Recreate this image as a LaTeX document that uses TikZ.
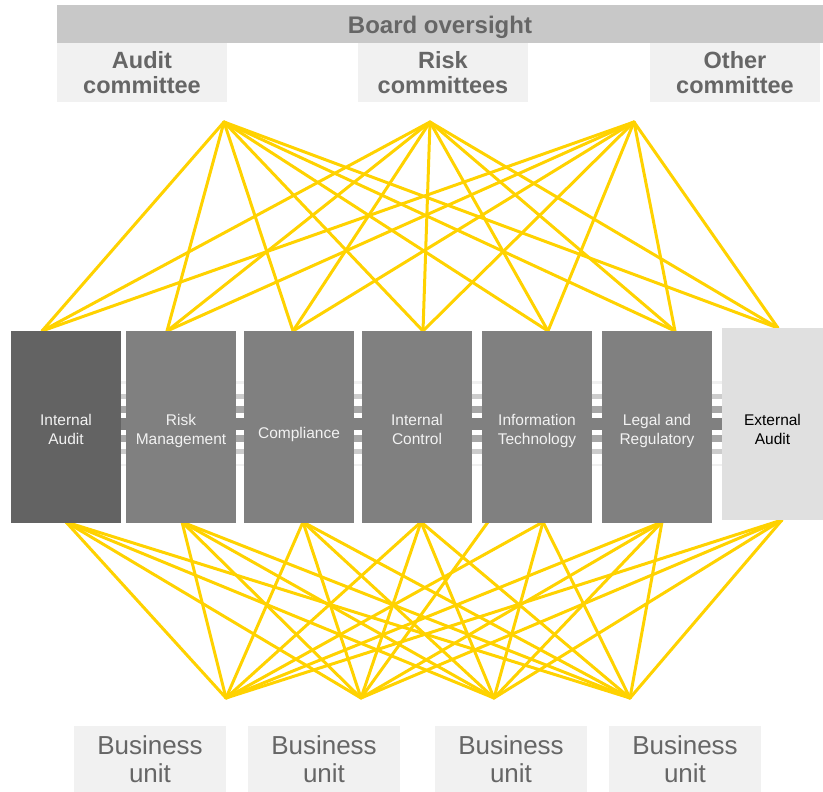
\documentclass[tikz,border=0pt]{standalone}
\usepackage{fontspec}
\setmainfont{Liberation Sans}
\definecolor{linkyellow}{RGB}{255,210,0}
\definecolor{barfill}{RGB}{200,200,200}
\definecolor{panelfill}{RGB}{241,241,241}
\definecolor{labelgray}{RGB}{102,102,102}
\definecolor{darkunit}{RGB}{99,99,99}
\definecolor{midunit}{RGB}{128,128,128}
\definecolor{extunit}{RGB}{224,224,224}
\definecolor{unittext}{RGB}{242,242,242}
\definecolor{pipeA}{RGB}{240,240,240}
\definecolor{pipeB}{RGB}{204,204,204}
\definecolor{pipeC}{RGB}{166,166,166}
\tikzset{
  link/.style={draw=linkyellow, line width=3pt, line cap=round},
  bar/.style={fill=barfill, draw=none, inner sep=0pt, text=labelgray,
    font=\bfseries\fontsize{24}{25}\selectfont},
  committee/.style={fill=panelfill, draw=none, inner sep=0pt, align=center,
    minimum width=170pt, minimum height=59pt, text=labelgray,
    font=\bfseries\fontsize{23.5}{25}\selectfont},
  unitbox/.style={fill=#1, draw=none, inner sep=0pt,
    minimum width=110pt, minimum height=192pt},
  unitlabel/.style={align=center, inner sep=0pt, text=unittext,
    font=\fontsize{15.5}{19}\selectfont},
  business/.style={fill=panelfill, draw=none, inner sep=0pt, align=center,
    minimum width=152pt, minimum height=66pt, text=labelgray,
    font=\fontsize{26}{28}\selectfont},
}
\begin{document}
\begin{tikzpicture}[x=1pt,y=-1pt]
\useasboundingbox (0,0) rectangle (823,792);

% board bar and committees
\node[bar, minimum width=766pt, minimum height=38pt,
  label={[bar, yshift=-3pt]center:Board oversight}] (board) at (440,24) {};
\node[committee] (audit) at (142,72.5) {Audit\\committee};
\node[committee] (risk) at (443,72.5) {Risk\\committees};
\node[committee] (other) at (735,72.5) {Other\\committee};

% convergence points
\coordinate (ca) at (224,122);
\coordinate (cr) at (430,122);
\coordinate (co) at (634,122);
\coordinate (b1) at (226,698);
\coordinate (b2) at (361,698);
\coordinate (b3) at (494,698);
\coordinate (b4) at (630,698);

% attachment points on the function boxes
\coordinate (t1) at (42,331);
\coordinate (t2) at (167,331);
\coordinate (t3) at (293,331);
\coordinate (t4) at (423,331);
\coordinate (t5) at (548,331);
\coordinate (t6) at (675,331);
\coordinate (t7) at (778,328);
\coordinate (u1) at (66,522);
\coordinate (u2) at (182,522);
\coordinate (u3) at (303,522);
\coordinate (u4) at (421,522);
\coordinate (u5) at (543,522);
\coordinate (u5b) at (488,522);
\coordinate (u6) at (662,522);
\coordinate (u7) at (782,520);

% links from committees to functions
\foreach \c in {ca,cr,co}
  \foreach \t in {t1,t2,t3,t4,t5,t6,t7}
    \draw[link] (\c) -- (\t);

% links from functions to business units
\foreach \b in {b1,b2,b3,b4}
  \foreach \u in {u1,u2,u3,u4,u6,u7}
    \draw[link] (\u) -- (\b);
\foreach \b in {b1,b3,b4}
  \draw[link] (u5) -- (\b);
\draw[link] (u5b) -- (b2);

% pipe running behind the function boxes
\fill[pipeA] (11,381) rectangle (722,383.5);
\fill[pipeB] (11,394) rectangle (722,399);
\fill[pipeC] (11,406) rectangle (722,413);
\fill[midunit] (11,418) rectangle (722,430);
\fill[pipeC] (11,435) rectangle (722,442);
\fill[pipeB] (11,449) rectangle (722,454);
\fill[pipeA] (11,463.5) rectangle (722,466);

% function boxes
\node[unitbox=darkunit, label={[unitlabel, yshift=-2.5pt]center:Internal\\Audit}] (ia) at (66,426.5) {};
\node[unitbox=midunit, label={[unitlabel, yshift=-4.5pt]center:Risk\\Management}] (rm) at (181,426.5) {};
\node[unitbox=midunit, label={[unitlabel, yshift=-7.5pt]center:Compliance}] (cp) at (299,426.5) {};
\node[unitbox=midunit, label={[unitlabel, yshift=-2.5pt]center:Internal\\Control}] (ic) at (417,426.5) {};
\node[unitbox=midunit, label={[unitlabel, yshift=-4.5pt]center:Information\\Technology}] (it) at (537,426.5) {};
\node[unitbox=midunit, label={[unitlabel, yshift=-4.5pt]center:Legal and\\Regulatory}] (lr) at (657,426.5) {};
\node[unitbox=extunit, minimum width=101pt,
  label={[unitlabel, text=black, yshift=-5pt]center:External\\Audit}] (ea) at (772.5,424) {};

% business units
\node[business] (bu1) at (150,759) {Business\\unit};
\node[business] (bu2) at (324,759) {Business\\unit};
\node[business] (bu3) at (511,759) {Business\\unit};
\node[business] (bu4) at (685,759) {Business\\unit};
\end{tikzpicture}
\end{document}
